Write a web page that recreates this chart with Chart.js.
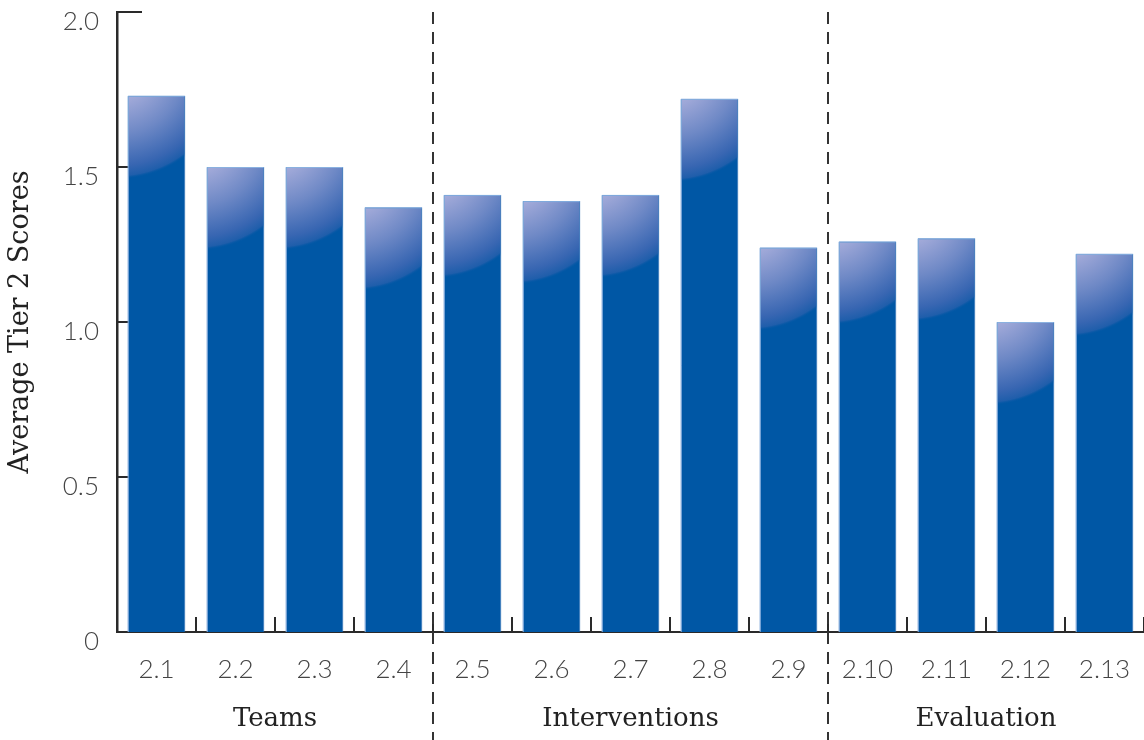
<!DOCTYPE html>
<html>
<head>
<meta charset="utf-8">
<script src="https://cdn.jsdelivr.net/npm/chart.js@4.4.1/dist/chart.umd.min.js"></script>
<style>
  html, body { margin: 0; padding: 0; background: #ffffff; }
  #wrap { width: 1144px; height: 740px; position: relative; }
</style>
</head>
<body>
<div id="wrap"><canvas id="c" width="1144" height="740"></canvas></div>
<script>
const categories = ['2.1','2.2','2.3','2.4','2.5','2.6','2.7','2.8','2.9','2.10','2.11','2.12','2.13'];
const scores = [1.73, 1.50, 1.50, 1.37, 1.41, 1.39, 1.41, 1.72, 1.24, 1.26, 1.27, 1.00, 1.22];
const groupNames = ['Teams', 'Interventions', 'Evaluation'];
const groupSizes = [4, 5, 4];
const yTickLabels = ['0', '0.5', '1.0', '1.5', '2.0'];
const yAxisTitle = 'Average Tier 2 Scores';

const BAR_BLUE = '#0057a5';
const AXIS_COLOR = '#2a2a2a';

const decorPlugin = {
  id: 'decor',
  beforeDatasetsDraw(chart) {
    const ctx = chart.ctx;
    const area = chart.chartArea;
    const x = chart.scales.x, y = chart.scales.y;
    const step = x.getPixelForValue(1) - x.getPixelForValue(0);
    ctx.save();
    ctx.strokeStyle = AXIS_COLOR;
    ctx.lineWidth = 2;
    // y inner ticks
    y.ticks.forEach(t => {
      const py = Math.round(y.getPixelForValue(t.value));
      if (t.value === 0) return;
      ctx.beginPath();
      ctx.moveTo(area.left, py);
      ctx.lineTo(area.left + 25, py);
      ctx.stroke();
    });
    // x inner ticks at category boundaries
    for (let i = 1; i <= categories.length; i++) {
      const px = Math.round(x.getPixelForValue(i - 1) + step / 2);
      ctx.beginPath();
      ctx.moveTo(px, area.bottom);
      ctx.lineTo(px, area.bottom - 15);
      ctx.stroke();
    }
    ctx.restore();
  },
  afterDatasetsDraw(chart) {
    const ctx = chart.ctx;
    const area = chart.chartArea;
    const x = chart.scales.x;
    const meta = chart.getDatasetMeta(0);
    // glossy highlight on bars
    meta.data.forEach(bar => {
      const w = bar.width;
      const left = bar.x - w / 2;
      const top = bar.y;
      const h = bar.base - bar.y;
      ctx.save();
      ctx.beginPath();
      ctx.rect(left + 1, top + 1, w - 2, h - 1);
      ctx.clip();
      const cx = left - 0.18 * w, cy = top - 0.53 * w, r = 1.98 * w;
      const g = ctx.createRadialGradient(cx, cy, 0, cx, cy, r);
      g.addColorStop(0, '#c2c6e8');
      g.addColorStop(0.3, '#a2aad9');
      g.addColorStop(0.6, '#6f89c6');
      g.addColorStop(0.88, '#3866b2');
      g.addColorStop(0.97, '#1f5eab');
      g.addColorStop(1, 'rgba(0,87,165,0)');
      ctx.fillStyle = g;
      ctx.fillRect(left, top, w, Math.min(h, r));
      ctx.restore();
      // light left/top edge
      ctx.save();
      ctx.strokeStyle = 'rgba(150,185,230,0.9)';
      ctx.lineWidth = 1;
      ctx.beginPath();
      ctx.moveTo(left + 0.5, bar.base);
      ctx.lineTo(left + 0.5, top + 0.5);
      ctx.lineTo(left + w - 0.5, top + 0.5);
      ctx.stroke();
      ctx.restore();
    });
    // dashed group separators
    const step = x.getPixelForValue(1) - x.getPixelForValue(0);
    ctx.save();
    ctx.strokeStyle = '#333';
    ctx.lineWidth = 2;
    ctx.setLineDash([12, 8]);
    let idx = 0;
    for (let gi = 0; gi < groupSizes.length - 1; gi++) {
      idx += groupSizes[gi];
      const px = Math.round(x.getPixelForValue(idx) - step / 2);
      ctx.beginPath();
      ctx.moveTo(px, area.top);
      ctx.lineTo(px, chart.height);
      ctx.stroke();
    }
    ctx.restore();
    // group labels
    ctx.save();
    ctx.fillStyle = '#222';
    ctx.font = '26px "DejaVu Serif"';
    ctx.textAlign = 'center';
    ctx.textBaseline = 'middle';
    let start = 0;
    groupNames.forEach((name, gi) => {
      const end = start + groupSizes[gi] - 1;
      const cxp = (x.getPixelForValue(start) + x.getPixelForValue(end)) / 2;
      ctx.fillText(name, cxp, 719);
      start += groupSizes[gi];
    });
    ctx.restore();
  }
};

new Chart(document.getElementById('c'), {
  type: 'bar',
  data: {
    labels: categories,
    datasets: [{
      data: scores,
      backgroundColor: BAR_BLUE,
      borderColor: '#1f63b0',
      borderWidth: 1,
      borderSkipped: 'start',
      categoryPercentage: 1.0,
      barPercentage: 0.73
    }]
  },
  options: {
    responsive: false,
    animation: false,
    events: [],
    layout: { padding: { left: 0, top: 12, right: 0, bottom: 0 } },
    plugins: { legend: { display: false }, tooltip: { enabled: false } },
    scales: {
      x: {
        offset: true,
        grid: { display: false, drawTicks: false },
        border: { display: true, color: AXIS_COLOR, width: 2 },
        ticks: {
          color: '#444',
          font: { family: 'Lato', size: 26, weight: '300' },
          padding: 22,
          maxRotation: 0,
          autoSkip: false
        },
        afterFit(scale) { scale.height = 108; scale.paddingLeft = 0; scale.paddingRight = 0; }
      },
      y: {
        min: 0,
        max: 2,
        grid: { display: false, drawTicks: false },
        border: { display: true, color: AXIS_COLOR, width: 2.5 },
        ticks: {
          stepSize: 0.5,
          color: '#444',
          font: { family: 'Lato', size: 26, weight: '300' },
          padding: 18,
          labelOffset: 10,
          callback: (v, i) => yTickLabels[i]
        },
        title: {
          display: true,
          text: yAxisTitle,
          color: '#222',
          font: { family: 'DejaVu Serif', size: 27 },
          padding: { top: 5, bottom: 0 }
        },
        afterFit(scale) { scale.width = 117; scale.paddingTop = 0; scale.paddingBottom = 0; }
      }
    }
  },
  plugins: [decorPlugin, {
    id: 'topTick',
    afterDraw(chart) {
      const ctx = chart.ctx, a = chart.chartArea;
      ctx.save();
      ctx.strokeStyle = AXIS_COLOR;
      ctx.lineWidth = 2;
      ctx.beginPath();
      ctx.moveTo(a.left, a.top);
      ctx.lineTo(a.left + 25, a.top);
      ctx.stroke();
      ctx.restore();
    }
  }]
});
</script>
</body>
</html>
